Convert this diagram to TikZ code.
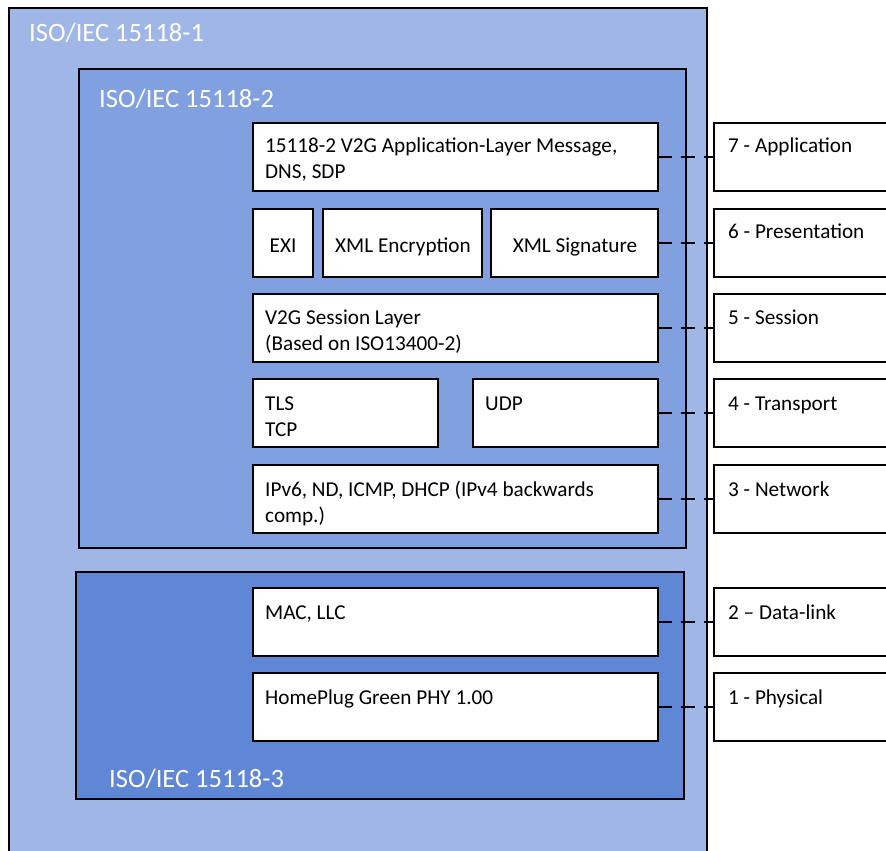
\documentclass[tikz,border=0pt]{standalone}
\usepackage{fontspec}
\setmainfont{Carlito}
\definecolor{outerblue}{HTML}{A0B6E7}
\definecolor{midblue}{HTML}{80A0E0}
\definecolor{deepblue}{HTML}{6086D6}
\newcommand{\twoline}[2]{\vtop{\hbox{#1}\hbox{#2}}}
\begin{document}
\begin{tikzpicture}[x=1pt,y=-1pt,
  box/.style={draw=black, line width=1.5pt, fill=white, anchor=north west, inner sep=0pt, outer sep=0pt, minimum height=68pt},
  frame/.style={draw=black, line width=1.5pt, anchor=north west, inner sep=0pt, outer sep=0pt},
  lbl/.style={anchor=base west, inner sep=0pt, font=\fontsize{21.2}{26}\selectfont, text=black},
  ttl/.style={anchor=base west, inner sep=0pt, font=\fontsize{26.5}{32}\selectfont, text=white},
  conn/.style={draw=black, line width=1.5pt, dash pattern=on 14pt off 9pt}
]
\useasboundingbox (0,0) rectangle (886,851);
\fill[white] (0,0) rectangle (886,851);
\clip (0,0) rectangle (886,851);

% frames
\node[frame, fill=outerblue, line width=1.2pt, minimum width=698pt, minimum height=870pt] (iso1) at (9,8) {};
\node[frame, fill=midblue, minimum width=607pt, minimum height=479pt] (iso2) at (79,69) {};
\node[frame, fill=deepblue, minimum width=608pt, minimum height=227pt] (iso3) at (76,572) {};

\node[ttl] (t1) at (29,42) {ISO/IEC 15118-1};
\node[ttl] (t2) at (99,107) {ISO/IEC 15118-2};
\node[ttl] (t3) at (109,787) {ISO/IEC 15118-3};

% protocol boxes
\node[box, minimum width=405pt] (app) at (253,123) {};
\node[box, minimum width=60pt] (exi) at (253,209) {};
\node[box, minimum width=159pt] (xenc) at (323,209) {};
\node[box, minimum width=167pt] (xsig) at (491,209) {};
\node[box, minimum width=405pt] (sess) at (253,294) {};
\node[box, minimum width=185pt] (tls) at (253,379) {};
\node[box, minimum width=185pt] (udp) at (473,379) {};
\node[box, minimum width=405pt] (net) at (253,465) {};
\node[box, minimum width=405pt] (mac) at (253,588) {};
\node[box, minimum width=405pt] (phy) at (253,673) {};

\node[lbl] (tapp) at (265,152) {\twoline{15118-2 V2G Application-Layer Message,}{DNS, SDP}};
\node[lbl, anchor=base] (texi) at (283,252) {EXI};
\node[lbl, anchor=base] (txenc) at (403,252) {XML Encryption};
\node[lbl, anchor=base] (txsig) at (575,252) {XML Signature};
\node[lbl] (tsess) at (265,324) {\twoline{V2G Session Layer}{(Based on ISO13400-2)}};
\node[lbl] (ttls) at (265,410) {\twoline{TLS}{TCP}};
\node[lbl] (tudp) at (485,410) {UDP};
\node[lbl] (tnet) at (265,496) {\twoline{IPv6, ND, ICMP, DHCP (IPv4 backwards}{comp.)}};
\node[lbl] (tmac) at (265,619) {MAC, LLC};
\node[lbl] (tphy) at (265,704) {HomePlug Green PHY 1.00};

% OSI layers
\node[box, minimum width=200pt] (l7) at (714,123) {};
\node[box, minimum width=200pt] (l6) at (714,209) {};
\node[box, minimum width=200pt] (l5) at (714,294) {};
\node[box, minimum width=200pt] (l4) at (714,379) {};
\node[box, minimum width=200pt] (l3) at (714,465) {};
\node[box, minimum width=200pt] (l2) at (714,588) {};
\node[box, minimum width=200pt] (l1) at (714,673) {};

\node[lbl] (tl7) at (728,152) {7 - Application};
\node[lbl] (tl6) at (728,238) {6 - Presentation};
\node[lbl] (tl5) at (728,324) {5 - Session};
\node[lbl] (tl4) at (728,410) {4 - Transport};
\node[lbl] (tl3) at (728,496) {3 - Network};
\node[lbl] (tl2) at (728,619) {2 -- Data-link};
\node[lbl] (tl1) at (728,704) {1 - Physical};

% connectors
\draw[conn] (app.east) -- (l7.west);
\draw[conn] (xsig.east) -- (l6.west);
\draw[conn] (sess.east) -- (l5.west);
\draw[conn] (udp.east) -- (l4.west);
\draw[conn] (net.east) -- (l3.west);
\draw[conn] (mac.east) -- (l2.west);
\draw[conn] (phy.east) -- (l1.west);
\end{tikzpicture}
\end{document}
